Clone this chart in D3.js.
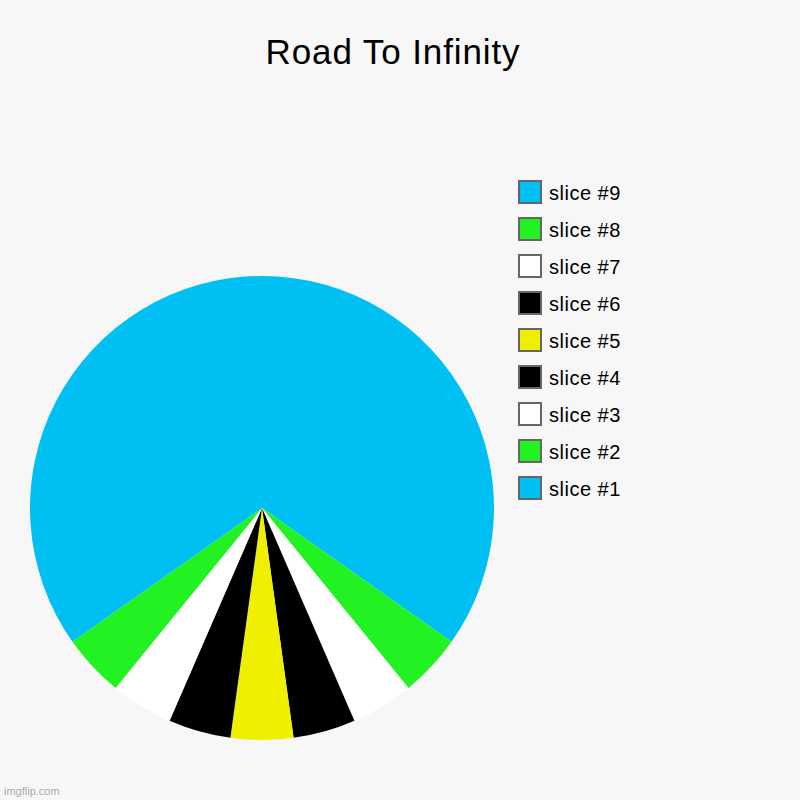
<!DOCTYPE html>
<html lang="en">
<head>
    <meta charset="UTF-8">
    <title>Road To Infinity</title>
    <style>
        body {
            margin: 0;
            background-color: #f7f7f7;
        }
        svg text {
            font-family: 'Liberation Sans', Arial, sans-serif;
        }
    </style>
</head>
<body>
    <div id="chart"></div>

    <script src="https://d3js.org/d3.v7.min.js"></script>
    <script>
        // Chart data
        const slices = ['slice #1', 'slice #2', 'slice #3', 'slice #4', 'slice #5',
                        'slice #6', 'slice #7', 'slice #8', 'slice #9'];
        const values = [8, 1, 1, 1, 1, 1, 1, 1, 8];
        const colors = ['#00bff3', '#22f222', '#ffffff', '#000000', '#eef000',
                        '#000000', '#ffffff', '#22f222', '#00bff3'];

        const width = 800, height = 800;
        const cx = 262, cy = 508, radius = 232;

        const svg = d3.select('#chart')
            .append('svg')
            .attr('width', width)
            .attr('height', height)
            .style('background-color', '#f7f7f7');

        // Title
        svg.append('text')
            .attr('x', 393)
            .attr('y', 64)
            .attr('text-anchor', 'middle')
            .attr('font-size', '35px')
            .attr('letter-spacing', '0.9px')
            .attr('fill', '#000')
            .text('Road To Infinity');

        // Pie
        const pie = d3.pie().sort(null).value(d => d)(values);
        const arc = d3.arc().innerRadius(0).outerRadius(radius);

        svg.append('g')
            .attr('transform', `translate(${cx},${cy})`)
            .selectAll('path')
            .data(pie)
            .enter()
            .append('path')
            .attr('d', arc)
            .attr('fill', (d, i) => colors[i]);

        // Legend, listed top to bottom from the last slice
        const legendY = d3.scalePoint()
            .domain(slices.slice().reverse())
            .range([192, 488]);

        const legend = svg.append('g')
            .selectAll('g')
            .data(slices)
            .enter()
            .append('g')
            .attr('transform', d => `translate(519,${legendY(d)})`);

        legend.append('rect')
            .attr('x', 0)
            .attr('y', -11)
            .attr('width', 22)
            .attr('height', 22)
            .attr('fill', (d, i) => colors[i])
            .attr('stroke', '#666')
            .attr('stroke-width', 2);

        legend.append('text')
            .attr('x', 30)
            .attr('y', 7.5)
            .attr('font-size', '20px')
            .attr('letter-spacing', '0.5px')
            .attr('fill', '#000')
            .text(d => d);

        // Watermark
        svg.append('text')
            .attr('x', 4)
            .attr('y', 795)
            .attr('font-size', '11px')
            .attr('fill', '#aaa')
            .text('imgflip.com');
    </script>
</body>
</html>
